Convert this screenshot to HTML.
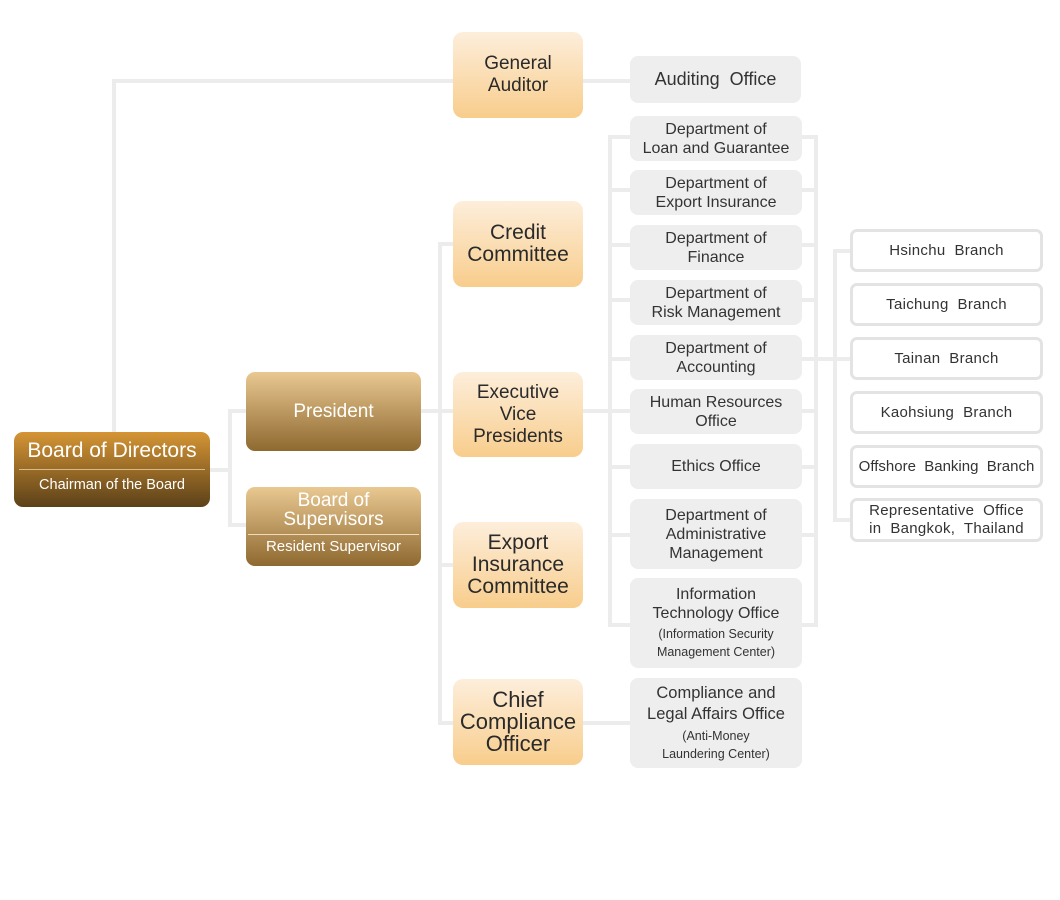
<!DOCTYPE html>
<html><head><meta charset="utf-8"><style>
body{margin:0;width:1060px;height:900px;background:#fff;position:relative;overflow:hidden;font-family:"Liberation Sans","DejaVu Sans",sans-serif;}
.b{position:absolute;display:flex;flex-direction:column;align-items:center;justify-content:center;text-align:center;box-sizing:border-box;}
.l{position:absolute;background:#ececec;}
.o{background:linear-gradient(#fdeedb,#f8cd8c);border-radius:10px;color:#2a2a2a;font-size:19px;line-height:22px;left:453px;width:130px;}
.g{background:#eeeeee;border-radius:8px;color:#333;font-size:16px;line-height:19px;left:630px;width:172px;}
.g small{font-size:12.5px;line-height:18px;margin-top:2px;}
.w{background:#fff;border:3px solid #e3e3e3;border-radius:7px;color:#333;font-size:15px;line-height:18px;left:850px;width:193px;letter-spacing:0.3px;}
.p{background:linear-gradient(#e9c891,#8e6930);border-radius:9px;color:#fff;left:246px;width:175px;}
</style></head><body>
<div class="l" style="left:112px;top:79px;width:4px;height:355px"></div>
<div class="l" style="left:112px;top:79px;width:342px;height:4px"></div>
<div class="l" style="left:208px;top:468px;width:24px;height:4px"></div>
<div class="l" style="left:228px;top:409px;width:4px;height:118px"></div>
<div class="l" style="left:228px;top:409px;width:20px;height:4px"></div>
<div class="l" style="left:228px;top:523px;width:20px;height:4px"></div>
<div class="l" style="left:419px;top:409px;width:36px;height:4px"></div>
<div class="l" style="left:438px;top:242px;width:4px;height:483px"></div>
<div class="l" style="left:438px;top:242px;width:16px;height:4px"></div>
<div class="l" style="left:438px;top:563px;width:16px;height:4px"></div>
<div class="l" style="left:438px;top:721px;width:16px;height:4px"></div>
<div class="l" style="left:581px;top:79px;width:50px;height:4px"></div>
<div class="l" style="left:581px;top:409px;width:31px;height:4px"></div>
<div class="l" style="left:581px;top:721px;width:50px;height:4px"></div>
<div class="l" style="left:608px;top:135px;width:4px;height:492px"></div>
<div class="l" style="left:814px;top:135px;width:4px;height:492px"></div>
<div class="l" style="left:608px;top:135px;width:210px;height:4px"></div>
<div class="l" style="left:608px;top:188px;width:210px;height:4px"></div>
<div class="l" style="left:608px;top:243px;width:210px;height:4px"></div>
<div class="l" style="left:608px;top:298px;width:210px;height:4px"></div>
<div class="l" style="left:608px;top:357px;width:244px;height:4px"></div>
<div class="l" style="left:608px;top:409px;width:210px;height:4px"></div>
<div class="l" style="left:608px;top:465px;width:210px;height:4px"></div>
<div class="l" style="left:608px;top:533px;width:210px;height:4px"></div>
<div class="l" style="left:608px;top:623px;width:210px;height:4px"></div>
<div class="l" style="left:833px;top:249px;width:4px;height:273px"></div>
<div class="l" style="left:833px;top:249px;width:18px;height:4px"></div>
<div class="l" style="left:833px;top:518px;width:18px;height:4px"></div>

<div class="b" style="left:14px;top:432px;width:196px;height:75px;background:linear-gradient(#d59535,#5c4119);border-radius:9px;color:#fff;justify-content:flex-start">
<div style="font-size:21px;line-height:24px;margin-top:7px">Board of Directors</div>
<div style="width:186px;height:1px;background:#d9b988;margin-top:6px"></div>
<div style="font-size:14.5px;line-height:18px;margin-top:6px">Chairman of the Board</div></div>
<div class="b p" style="top:372px;height:79px;font-size:19px">President</div>
<div class="b p" style="top:487px;height:79px;justify-content:flex-start">
<div style="font-size:19px;line-height:19px;margin-top:4px">Board of<br>Supervisors</div>
<div style="width:171px;height:1px;background:#f0dcbc;margin-top:5px"></div>
<div style="font-size:15px;line-height:18px;margin-top:3px">Resident Supervisor</div></div>

<div class="b o" style="top:32px;height:86px">General<br>Auditor</div>
<div class="b o" style="top:201px;height:86px;font-size:21px">Credit<br>Committee</div>
<div class="b o" style="top:372px;height:85px">Executive<br>Vice<br>Presidents</div>
<div class="b o" style="top:522px;height:86px;font-size:21px">Export<br>Insurance<br>Committee</div>
<div class="b o" style="top:679px;height:86px;font-size:22px">Chief<br>Compliance<br>Officer</div>

<div class="b g" style="top:56px;height:47px;width:171px;font-size:18px">Auditing&nbsp; Office</div>
<div class="b g" style="top:116px;height:45px">Department of<br>Loan and Guarantee</div>
<div class="b g" style="top:170px;height:45px">Department of<br>Export Insurance</div>
<div class="b g" style="top:225px;height:45px">Department of<br>Finance</div>
<div class="b g" style="top:280px;height:45px">Department of<br>Risk Management</div>
<div class="b g" style="top:335px;height:45px">Department of<br>Accounting</div>
<div class="b g" style="top:389px;height:45px">Human Resources<br>Office</div>
<div class="b g" style="top:444px;height:45px">Ethics Office</div>
<div class="b g" style="top:499px;height:70px">Department of<br>Administrative<br>Management</div>
<div class="b g" style="top:578px;height:90px">Information<br>Technology Office<small>(Information Security<br>Management Center)</small></div>
<div class="b g" style="top:678px;height:90px;font-size:16.5px;line-height:21px">Compliance and<br>Legal Affairs Office<small>(Anti-Money<br>Laundering Center)</small></div>

<div class="b w" style="top:229px;height:43px">Hsinchu&nbsp; Branch</div>
<div class="b w" style="top:283px;height:43px">Taichung&nbsp; Branch</div>
<div class="b w" style="top:337px;height:43px">Tainan&nbsp; Branch</div>
<div class="b w" style="top:391px;height:43px">Kaohsiung&nbsp; Branch</div>
<div class="b w" style="top:445px;height:43px;letter-spacing:0;white-space:nowrap">Offshore&nbsp; Banking&nbsp; Branch</div>
<div class="b w" style="top:498px;height:44px">Representative&nbsp; Office<br>in&nbsp; Bangkok,&nbsp; Thailand</div>
</body></html>
